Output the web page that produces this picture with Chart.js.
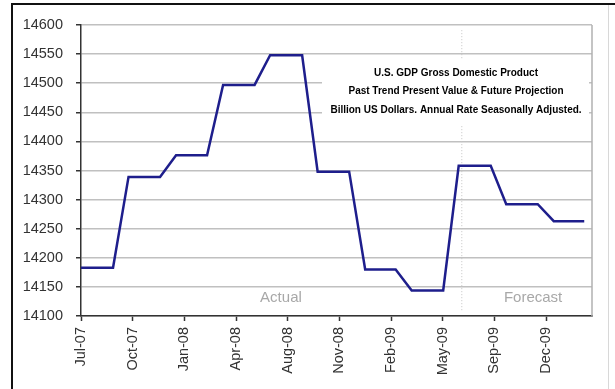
<!DOCTYPE html>
<html>
<head>
<meta charset="utf-8">
<script src="https://cdn.jsdelivr.net/npm/chart.js@4/dist/chart.umd.min.js"></script>
<style>
  html, body { margin: 0; padding: 0; background: #fff; }
  #wrap { position: relative; width: 615px; height: 389px; }
  canvas { display: block; }
</style>
</head>
<body>
<div id="wrap"><canvas id="c" width="615" height="389"></canvas></div>
<script>
// ---- data ----
const months = ['2007-07','2007-08','2007-09','2007-10','2007-11','2007-12',
  '2008-01','2008-02','2008-03','2008-04','2008-05','2008-06',
  '2008-07','2008-08','2008-09','2008-10','2008-11','2008-12',
  '2009-01','2009-02','2009-03','2009-04','2009-05','2009-06',
  '2009-07','2009-08','2009-09','2009-10','2009-11','2009-12',
  '2010-01','2010-02','2010-03'];
const gdp = [14183,14183,14183, 14339,14339,14339, 14376,14376,14376,
  14497,14497,14497, 14548,14548,14548, 14348,14348,14348,
  14180,14180,14180, 14144,14144,14144, 14358,14358,14358,
  14292,14292,14292, 14263,14263,14263];
const tickLabels = ['Jul-07','Oct-07','Jan-08','Apr-08','Aug-08','Nov-08','Feb-09','May-09','Sep-09','Dec-09'];
const tickDays = [0,100,200,300,400,500,600,700,800,900];   // days after 1 Jul 2007
const forecastDay = 737;
const dividerRange = [14110, 14591];
const titleLines = ['U.S. GDP Gross Domestic Product',
  'Past Trend Present Value & Future Projection',
  'Billion US Dollars. Annual Rate Seasonally Adjusted.'];
const regionLabels = [{text:'Actual', day:387}, {text:'Forecast', day:875}];

const origin = Date.UTC(2007, 6, 1);
function dayOf(m) { const [y, mo] = m.split('-').map(Number); return (Date.UTC(y, mo - 1, 1) - origin) / 86400000; }
const linePts = months.map((m, i) => ({ x: dayOf(m), y: gdp[i] }));
const dividerPts = dividerRange.map(v => ({ x: forecastDay, y: v }));

const decor = {
  id: 'decor',
  beforeDraw(chart) {
    const ctx = chart.ctx;
    ctx.save();
    ctx.fillStyle = '#fff';
    ctx.fillRect(0, 0, chart.width, chart.height);
    ctx.restore();
  },
  beforeDatasetsDraw(chart) {
    const { ctx, chartArea: a } = chart;
    ctx.save();
    ctx.strokeStyle = '#b0b0b0';
    ctx.lineWidth = 1.5;
    ctx.beginPath();
    ctx.moveTo(a.right, a.top); ctx.lineTo(a.right, a.bottom);
    ctx.stroke();
    const xs = chart.scales.x, ys = chart.scales.y;
    ctx.fillStyle = '#a8a8a8';
    ctx.font = '15px "Liberation Sans", Arial, sans-serif';
    ctx.textAlign = 'center'; ctx.textBaseline = 'middle';
    regionLabels.forEach(r => ctx.fillText(r.text, xs.getPixelForValue(r.day), ys.getPixelForValue(14132)));
    ctx.restore();
  },
  afterDatasetsDraw(chart) {
    const { ctx, chartArea: a } = chart;
    ctx.save();
    ctx.fillStyle = '#fff';
    ctx.fillRect(322, 59, 267, 66);
    ctx.fillStyle = '#000';
    ctx.font = 'bold 10px "Liberation Sans", Arial, sans-serif';
    ctx.textAlign = 'center'; ctx.textBaseline = 'middle';
    titleLines.forEach((t, i) => ctx.fillText(t, 456, 73 + i * 18.5));
    // outer frame
    ctx.strokeStyle = '#111'; ctx.lineWidth = 2;
    ctx.beginPath();
    ctx.moveTo(12, 389); ctx.lineTo(12, 4); ctx.lineTo(615, 4);
    ctx.stroke();
    ctx.strokeStyle = '#d8d8d8'; ctx.lineWidth = 1;
    ctx.beginPath(); ctx.moveTo(608.5, 5); ctx.lineTo(608.5, 389); ctx.stroke();
    ctx.restore();
  }
};

new Chart(document.getElementById('c'), {
  type: 'line',
  data: {
    datasets: [
      { data: linePts, borderColor: '#1e1e8c', borderWidth: 2.5, pointRadius: 0, tension: 0, fill: false },
      { data: dividerPts, borderColor: '#c4c4c4', borderWidth: 1, borderDash: [1, 2], pointRadius: 0, fill: false }
    ]
  },
  options: {
    responsive: false,
    animation: false,
    events: [],
    layout: { padding: { left: 0, top: 25, right: 23, bottom: 0 } },
    plugins: { legend: { display: false }, tooltip: { enabled: false }, title: { display: false } },
    scales: {
      x: {
        type: 'linear', min: 0, max: 989,
        afterFit(s) { s.height = 73; },
        afterBuildTicks(s) { s.ticks = tickDays.map(v => ({ value: v })); },
        grid: { drawOnChartArea: false, drawTicks: true, tickLength: 5, tickColor: '#333', tickWidth: 1.5 },
        border: { color: '#333', width: 1.5 },
        ticks: {
          autoSkip: false, maxRotation: 90, minRotation: 90, padding: 6,
          color: '#333', font: { family: '"Liberation Sans", Arial, sans-serif', size: 14.5 },
          callback(v) { const i = tickDays.indexOf(v); return i >= 0 ? tickLabels[i] : ''; }
        }
      },
      y: {
        min: 14100, max: 14600,
        afterFit(s) { s.width = 81; },
        grid: { color: '#c0c0c0', lineWidth: 1.5, drawTicks: true, tickLength: 5, tickColor: '#333', tickWidth: 1.5 },
        border: { color: '#333', width: 1.5 },
        ticks: {
          stepSize: 50, padding: 13, color: '#333',
          font: { family: '"Liberation Sans", Arial, sans-serif', size: 14.5 },
          callback(v) { return String(v); }
        }
      }
    }
  },
  plugins: [decor]
});
</script>
</body>
</html>
